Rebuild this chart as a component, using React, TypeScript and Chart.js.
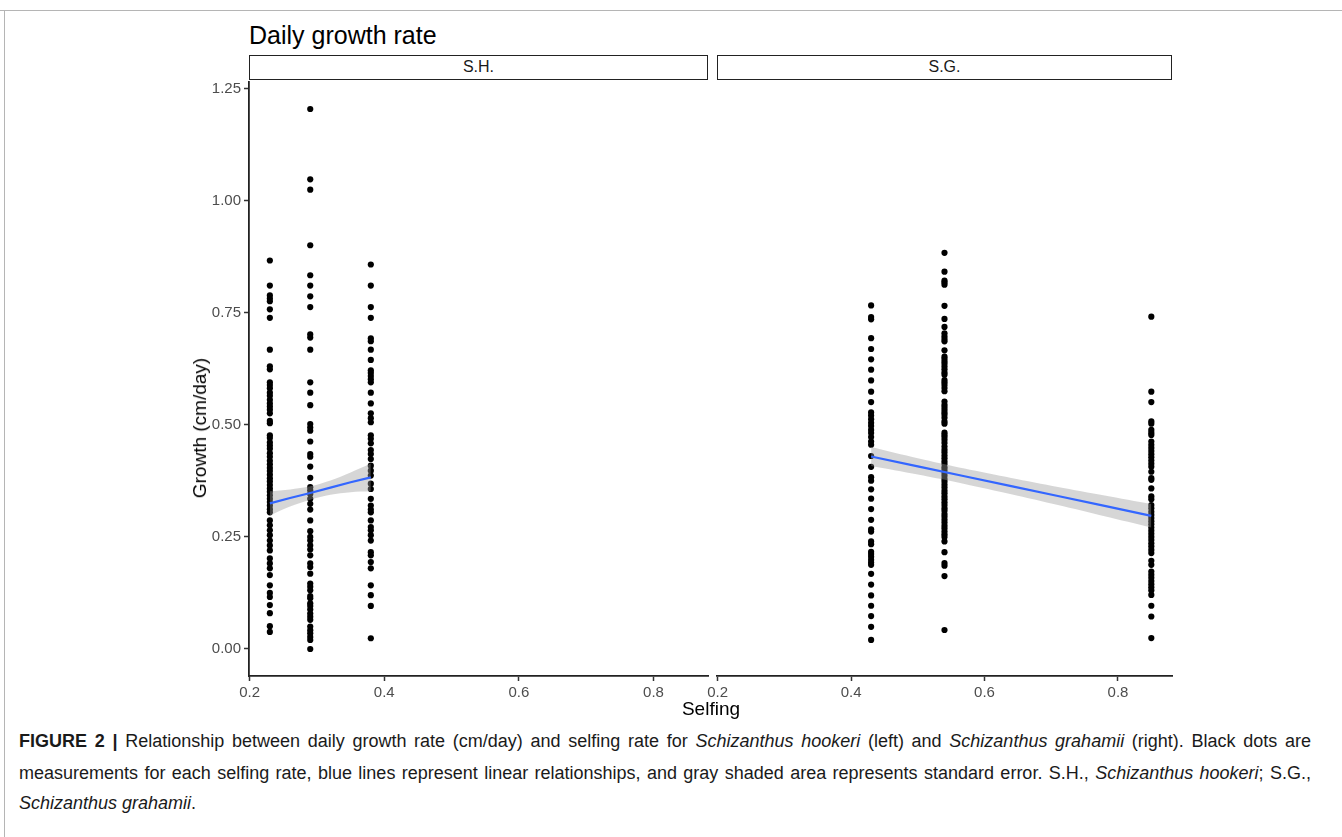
import React, { useEffect, useRef } from "react";
import { Chart, registerables } from "chart.js";

Chart.register(...registerables);

// ---------- data ----------
const yTicks = [0, 0.25, 0.5, 0.75, 1.0, 1.25];
const xTicks = [0.2, 0.4, 0.6, 0.8];
const xMin = 0.199;
const xMax = 0.881;
const yMin = -0.0603;
const yMax = 1.2653;

const panelLabels = ["S.H.", "S.G."];

// Schizanthus hookeri (S.H.)
const shSelfing = [0.23, 0.29, 0.38];
const sh023 = [0.867, 0.811, 0.789, 0.782, 0.776, 0.758, 0.739, 0.668, 0.631, 0.624, 0.595, 0.589, 0.582, 0.572, 0.565, 0.556, 0.548, 0.541, 0.534, 0.526, 0.509, 0.504, 0.477, 0.471, 0.461, 0.454, 0.447, 0.437, 0.429, 0.420, 0.412, 0.404, 0.397, 0.389, 0.381, 0.374, 0.366, 0.358, 0.351, 0.343, 0.335, 0.328, 0.320, 0.312, 0.305, 0.287, 0.276, 0.265, 0.254, 0.242, 0.231, 0.220, 0.202, 0.191, 0.180, 0.165, 0.142, 0.125, 0.116, 0.098, 0.080, 0.051, 0.038];
const sh029 = [1.205, 1.048, 1.025, 0.901, 0.834, 0.811, 0.787, 0.763, 0.702, 0.695, 0.668, 0.595, 0.572, 0.544, 0.502, 0.494, 0.487, 0.463, 0.435, 0.429, 0.407, 0.382, 0.361, 0.354, 0.346, 0.335, 0.324, 0.311, 0.287, 0.263, 0.250, 0.242, 0.231, 0.222, 0.209, 0.191, 0.183, 0.168, 0.146, 0.139, 0.131, 0.118, 0.113, 0.102, 0.096, 0.088, 0.079, 0.072, 0.065, 0.050, 0.042, 0.035, 0.027, 0.020, 0.000];
const sh038 = [0.858, 0.811, 0.763, 0.739, 0.693, 0.687, 0.668, 0.645, 0.622, 0.616, 0.609, 0.602, 0.595, 0.572, 0.548, 0.526, 0.515, 0.506, 0.477, 0.469, 0.459, 0.444, 0.435, 0.424, 0.409, 0.398, 0.387, 0.369, 0.357, 0.335, 0.320, 0.311, 0.305, 0.287, 0.272, 0.265, 0.254, 0.242, 0.216, 0.209, 0.194, 0.180, 0.142, 0.120, 0.096, 0.024];
const shFitX = [0.23, 0.26, 0.29, 0.32, 0.35, 0.38];
const shFitY = [0.325, 0.337, 0.348, 0.360, 0.372, 0.383];
const shSeLow = [0.298, 0.318, 0.333, 0.344, 0.350, 0.352];
const shSeHigh = [0.352, 0.356, 0.363, 0.376, 0.394, 0.414];

// Schizanthus grahamii (S.G.)
const sgSelfing = [0.43, 0.54, 0.85];
const sg043 = [0.764, 0.738, 0.733, 0.691, 0.667, 0.644, 0.621, 0.597, 0.572, 0.549, 0.526, 0.519, 0.511, 0.503, 0.496, 0.487, 0.480, 0.471, 0.461, 0.454, 0.429, 0.405, 0.382, 0.374, 0.355, 0.334, 0.311, 0.287, 0.266, 0.261, 0.239, 0.233, 0.216, 0.211, 0.205, 0.198, 0.192, 0.187, 0.167, 0.143, 0.119, 0.096, 0.073, 0.049, 0.020];
const sg054 = [0.881, 0.839, 0.819, 0.815, 0.810, 0.763, 0.734, 0.716, 0.702, 0.695, 0.689, 0.684, 0.664, 0.650, 0.645, 0.639, 0.634, 0.628, 0.622, 0.615, 0.610, 0.598, 0.593, 0.587, 0.580, 0.573, 0.550, 0.543, 0.538, 0.532, 0.526, 0.521, 0.514, 0.506, 0.501, 0.481, 0.476, 0.471, 0.465, 0.458, 0.450, 0.443, 0.437, 0.430, 0.424, 0.417, 0.411, 0.404, 0.398, 0.391, 0.385, 0.378, 0.372, 0.365, 0.359, 0.352, 0.346, 0.339, 0.333, 0.326, 0.320, 0.313, 0.307, 0.300, 0.294, 0.287, 0.281, 0.274, 0.268, 0.261, 0.255, 0.249, 0.239, 0.215, 0.191, 0.185, 0.162, 0.042];
const sg085 = [0.739, 0.572, 0.549, 0.506, 0.501, 0.487, 0.481, 0.476, 0.461, 0.454, 0.447, 0.440, 0.433, 0.426, 0.419, 0.412, 0.405, 0.394, 0.380, 0.376, 0.357, 0.339, 0.333, 0.320, 0.313, 0.305, 0.298, 0.291, 0.284, 0.277, 0.270, 0.263, 0.256, 0.249, 0.242, 0.235, 0.228, 0.220, 0.213, 0.196, 0.187, 0.172, 0.165, 0.158, 0.151, 0.144, 0.137, 0.130, 0.120, 0.096, 0.072, 0.024];
const sgFitX = [0.43, 0.50, 0.57, 0.64, 0.71, 0.78, 0.85];
const sgFitY = [0.428, 0.406, 0.384, 0.362, 0.340, 0.318, 0.296];
const sgSeLow = [0.407, 0.388, 0.367, 0.344, 0.320, 0.295, 0.270];
const sgSeHigh = [0.449, 0.424, 0.401, 0.380, 0.360, 0.341, 0.322];

const FONT = "'Liberation Sans', Arial, Helvetica, sans-serif";

function buildDatasets(selfing: number[], groups: number[][], fx: number[], fy: number[], lo: number[], hi: number[]) {
  const pts: { x: number; y: number }[] = [];
  groups.forEach((g, i) => g.forEach((v) => pts.push({ x: selfing[i], y: v })));
  return [
    {
      data: pts,
      showLine: false,
      pointRadius: 3.1,
      pointBackgroundColor: "#000",
      pointBorderWidth: 0,
      order: 3,
    },
    {
      data: fx.map((x, i) => ({ x, y: hi[i] })),
      borderWidth: 0,
      pointRadius: 0,
      backgroundColor: "rgba(153,153,153,0.4)",
      fill: "+1",
      tension: 0.3,
      order: 2,
    },
    {
      data: fx.map((x, i) => ({ x, y: lo[i] })),
      borderWidth: 0,
      pointRadius: 0,
      fill: false,
      tension: 0.3,
      order: 2,
    },
    {
      data: fx.map((x, i) => ({ x, y: fy[i] })),
      borderColor: "#3366FF",
      borderWidth: 2.2,
      pointRadius: 0,
      fill: false,
      order: 1,
    },
  ];
}

function makeConfig(datasets: any[], showY: boolean, padding: any): any {
  return {
    type: "line",
    data: { datasets },
    options: {
      responsive: false,
      animation: false,
      events: [],
      layout: { padding },
      plugins: { legend: { display: false }, tooltip: { enabled: false } },
      scales: {
        x: {
          type: "linear",
          min: xMin,
          max: xMax,
          afterBuildTicks: (s: any) => {
            s.ticks = xTicks.map((v) => ({ value: v }));
          },
          afterFit: (s: any) => {
            s.height = 30;
          },
          ticks: {
            callback: (v: any) => Number(v).toFixed(1),
            color: "#4d4d4d",
            font: { family: FONT, size: 15 },
            padding: 3,
            maxRotation: 0,
            autoSkip: false,
          },
          grid: { drawOnChartArea: false, drawTicks: true, tickLength: 5, tickColor: "#333", tickWidth: 1.5 },
          border: { display: true, color: "#222", width: 1.8 },
        },
        y: {
          type: "linear",
          display: showY,
          min: yMin,
          max: yMax,
          afterBuildTicks: (s: any) => {
            s.ticks = yTicks.map((v) => ({ value: v }));
          },
          afterFit: (s: any) => {
            s.width = showY ? 59 : 0;
          },
          ticks: {
            callback: (v: any) => Number(v).toFixed(2),
            color: "#4d4d4d",
            font: { family: FONT, size: 15 },
            padding: 3,
            autoSkip: false,
          },
          grid: { drawOnChartArea: false, drawTicks: true, tickLength: 5, tickColor: "#333", tickWidth: 1.5 },
          border: { display: true, color: "#222", width: 1.8 },
        },
      },
    },
  };
}

function Panel(props: { datasets: any[]; showY: boolean; padding: any; left: number; top: number; width: number; height: number }) {
  const ref = useRef<HTMLCanvasElement | null>(null);
  useEffect(() => {
    if (!ref.current) return;
    const chart = new Chart(ref.current, makeConfig(props.datasets, props.showY, props.padding));
    return () => chart.destroy();
  }, []);
  return (
    <canvas
      ref={ref}
      width={props.width}
      height={props.height}
      style={{ position: "absolute", left: props.left, top: props.top, width: props.width, height: props.height }}
    />
  );
}

export default function App() {
  const shData = buildDatasets(shSelfing, [sh023, sh029, sh038], shFitX, shFitY, shSeLow, shSeHigh);
  const sgData = buildDatasets(sgSelfing, [sg043, sg054, sg085], sgFitX, sgFitY, sgSeLow, sgSeHigh);
  const strip = (left: number, width: number, label: string) => (
    <div
      style={{
        position: "absolute",
        left,
        top: 55,
        width,
        height: 25,
        boxSizing: "border-box",
        border: "1.5px solid #222",
        background: "#fff",
        fontFamily: FONT,
        fontSize: 16,
        color: "#1a1a1a",
        textAlign: "center",
        lineHeight: "22px",
      }}
    >
      {label}
    </div>
  );
  const capLine = (top: number, justify: boolean, children: any) => (
    <div
      style={{
        position: "absolute",
        left: 19,
        top,
        width: justify ? 1292 : undefined,
        whiteSpace: "nowrap",
        textAlign: justify ? "justify" : "left",
        textAlignLast: justify ? "justify" : "left",
        fontFamily: FONT,
        fontSize: 18,
        lineHeight: "20px",
        color: "#1a1a1a",
      } as any}
    >
      {children}
    </div>
  );
  return (
    <div style={{ position: "absolute", left: 0, top: 0, width: 1342, height: 837, background: "#fff", overflow: "hidden" }}>
      <div style={{ position: "absolute", left: 0, top: 10, width: 1342, height: 1, background: "#b5b5b5" }} />
      <div style={{ position: "absolute", left: 4, top: 10, width: 1, height: 827, background: "#b5b5b5" }} />
      <div style={{ position: "absolute", left: 249, top: 20, fontFamily: FONT, fontSize: 25, color: "#000", lineHeight: "30px", whiteSpace: "nowrap" }}>
        Daily growth rate
      </div>
      <Panel datasets={shData} showY={true} padding={{ left: 0, top: 10, right: 7, bottom: 4 }} left={190} top={70} width={525} height={640} />
      <Panel datasets={sgData} showY={false} padding={{ left: 27, top: 10, right: 10, bottom: 4 }} left={690} top={70} width={492} height={640} />
      {strip(249, 459, panelLabels[0])}
      {strip(717, 455, panelLabels[1])}
      <div
        style={{
          position: "absolute",
          left: 200,
          top: 428,
          transform: "translate(-50%, -50%) rotate(-90deg)",
          fontFamily: FONT,
          fontSize: 19,
          color: "#000",
          whiteSpace: "nowrap",
        }}
      >
        Growth (cm/day)
      </div>
      <div
        style={{
          position: "absolute",
          left: 711,
          top: 709,
          transform: "translate(-50%, -50%)",
          fontFamily: FONT,
          fontSize: 19,
          color: "#000",
          whiteSpace: "nowrap",
        }}
      >
        Selfing
      </div>
      {capLine(731, true, (
        <span>
          <b>FIGURE 2 |</b> Relationship between daily growth rate (cm/day) and selfing rate for <i>Schizanthus hookeri</i> (left) and{" "}
          <i>Schizanthus grahamii</i> (right). Black dots are
        </span>
      ))}
      {capLine(763, true, (
        <span>
          measurements for each selfing rate, blue lines represent linear relationships, and gray shaded area represents standard error. S.H.,{" "}
          <i>Schizanthus hookeri</i>; S.G.,
        </span>
      ))}
      {capLine(793, false, (
        <span>
          <i>Schizanthus grahamii</i>.
        </span>
      ))}
    </div>
  );
}
